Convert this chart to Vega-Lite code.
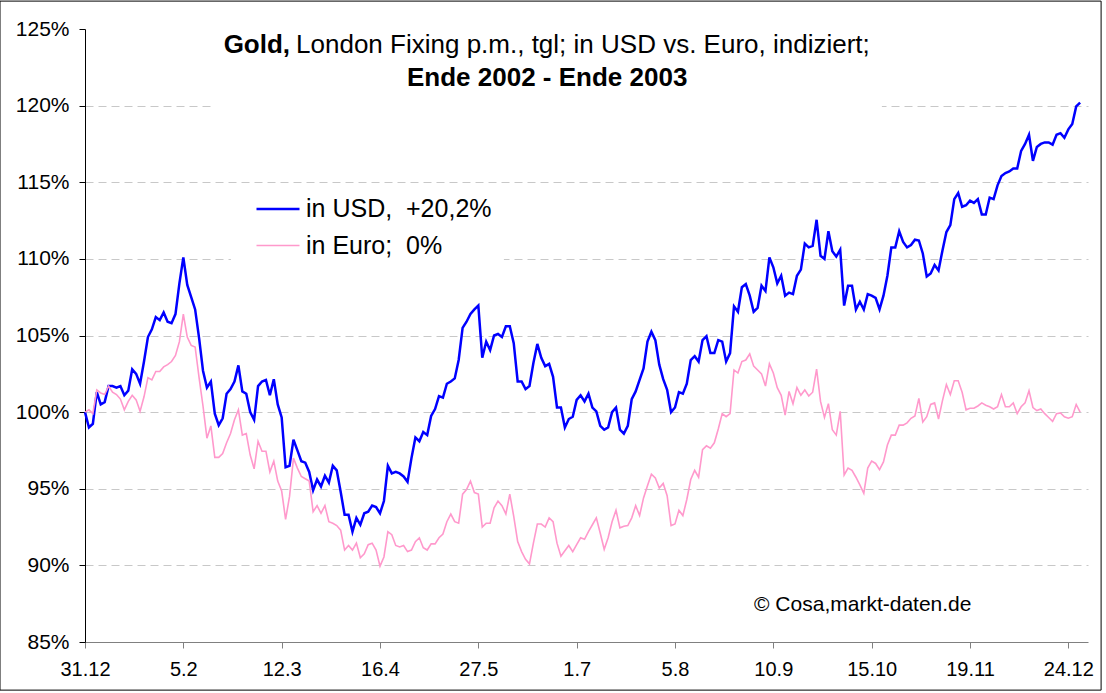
{
"$schema":"https://vega.github.io/schema/vega-lite/v6.json",
"width":1003,"height":613,
"autosize":{"type":"none"},
"padding":{"left":85,"top":29,"right":18,"bottom":51},
"background":"white",
"config":{"view":{"stroke":null},"font":"Liberation Sans"},
"data":{"values":[
{"i":0,"usd":100.0,"eur":100.0},{"i":1,"usd":99.0,"eur":100.15},{"i":2,"usd":99.24,"eur":99.9},{"i":3,"usd":101.3,"eur":101.45},{"i":4,"usd":100.5,"eur":101.25},{"i":5,"usd":100.65,"eur":101.15},{"i":6,"usd":101.7,"eur":101.7},{"i":7,"usd":101.7,"eur":101.3},{"i":8,"usd":101.6,"eur":101.15},{"i":9,"usd":101.7,"eur":100.85},
{"i":10,"usd":101.1,"eur":100.15},{"i":11,"usd":101.4,"eur":100.7},{"i":12,"usd":102.8,"eur":101.1},{"i":13,"usd":102.5,"eur":100.8},{"i":14,"usd":101.85,"eur":100.05},{"i":15,"usd":103.3,"eur":101.0},{"i":16,"usd":104.9,"eur":102.25},{"i":17,"usd":105.4,"eur":102.1},{"i":18,"usd":106.2,"eur":102.65},{"i":19,"usd":106.0,"eur":102.65},
{"i":20,"usd":106.5,"eur":102.95},{"i":21,"usd":105.9,"eur":103.1},{"i":22,"usd":105.8,"eur":103.3},{"i":23,"usd":106.4,"eur":103.7},{"i":24,"usd":108.4,"eur":104.6},{"i":25,"usd":110.1,"eur":106.4},{"i":26,"usd":108.3,"eur":104.9},{"i":27,"usd":107.5,"eur":104.35},{"i":28,"usd":106.7,"eur":104.25},{"i":29,"usd":104.85,"eur":102.25},
{"i":30,"usd":102.7,"eur":100.4},{"i":31,"usd":101.6,"eur":98.3},{"i":32,"usd":102.0,"eur":99.1},{"i":33,"usd":99.9,"eur":97.05},{"i":34,"usd":99.15,"eur":97.05},{"i":35,"usd":99.6,"eur":97.3},{"i":36,"usd":101.2,"eur":98.0},{"i":37,"usd":101.5,"eur":98.6},{"i":38,"usd":102.0,"eur":99.5},{"i":39,"usd":103.05,"eur":100.15},
{"i":40,"usd":101.35,"eur":98.5},{"i":41,"usd":101.2,"eur":98.6},{"i":42,"usd":100.0,"eur":97.2},{"i":43,"usd":99.5,"eur":96.3},{"i":44,"usd":101.7,"eur":98.1},{"i":45,"usd":102.0,"eur":97.45},{"i":46,"usd":102.1,"eur":97.45},{"i":47,"usd":101.1,"eur":96.1},{"i":48,"usd":102.15,"eur":96.8},{"i":49,"usd":100.5,"eur":95.5},
{"i":50,"usd":99.65,"eur":94.85},{"i":51,"usd":96.4,"eur":93.0},{"i":52,"usd":96.5,"eur":94.5},{"i":53,"usd":98.2,"eur":97.0},{"i":54,"usd":97.5,"eur":96.35},{"i":55,"usd":96.8,"eur":95.8},{"i":56,"usd":96.7,"eur":95.65},{"i":57,"usd":96.1,"eur":95.5},{"i":58,"usd":94.9,"eur":93.5},{"i":59,"usd":95.6,"eur":93.9},
{"i":60,"usd":95.15,"eur":93.4},{"i":61,"usd":95.85,"eur":93.9},{"i":62,"usd":95.4,"eur":92.85},{"i":63,"usd":96.5,"eur":92.75},{"i":64,"usd":96.2,"eur":92.6},{"i":65,"usd":94.8,"eur":92.3},{"i":66,"usd":93.3,"eur":91.0},{"i":67,"usd":93.3,"eur":91.3},{"i":68,"usd":92.2,"eur":91.0},{"i":69,"usd":93.1,"eur":91.45},
{"i":70,"usd":92.65,"eur":90.5},{"i":71,"usd":93.4,"eur":90.75},{"i":72,"usd":93.5,"eur":91.35},{"i":73,"usd":93.9,"eur":91.45},{"i":74,"usd":93.8,"eur":91.0},{"i":75,"usd":93.4,"eur":89.95},{"i":76,"usd":94.2,"eur":90.55},{"i":77,"usd":96.5,"eur":92.2},{"i":78,"usd":96.0,"eur":92.0},{"i":79,"usd":96.1,"eur":91.3},
{"i":80,"usd":96.0,"eur":91.2},{"i":81,"usd":95.8,"eur":91.3},{"i":82,"usd":95.45,"eur":90.9},{"i":83,"usd":97.0,"eur":91.0},{"i":84,"usd":98.35,"eur":91.55},{"i":85,"usd":98.1,"eur":91.8},{"i":86,"usd":98.7,"eur":91.15},{"i":87,"usd":98.5,"eur":91.0},{"i":88,"usd":99.75,"eur":91.4},{"i":89,"usd":100.2,"eur":91.4},
{"i":90,"usd":101.05,"eur":91.8},{"i":91,"usd":100.95,"eur":92.05},{"i":92,"usd":101.85,"eur":92.85},{"i":93,"usd":102.0,"eur":93.35},{"i":94,"usd":102.2,"eur":92.85},{"i":95,"usd":103.4,"eur":92.75},{"i":96,"usd":105.5,"eur":94.65},{"i":97,"usd":105.9,"eur":94.95},{"i":98,"usd":106.4,"eur":95.5},{"i":99,"usd":106.7,"eur":94.75},
{"i":100,"usd":106.95,"eur":94.65},{"i":101,"usd":103.55,"eur":92.5},{"i":102,"usd":104.6,"eur":92.75},{"i":103,"usd":104.05,"eur":92.75},{"i":104,"usd":105.0,"eur":93.75},{"i":105,"usd":105.1,"eur":94.2},{"i":106,"usd":104.9,"eur":93.9},{"i":107,"usd":105.6,"eur":93.35},{"i":108,"usd":105.6,"eur":94.65},{"i":109,"usd":104.5,"eur":93.2},
{"i":110,"usd":102.0,"eur":91.55},{"i":111,"usd":102.0,"eur":90.9},{"i":112,"usd":101.5,"eur":90.4},{"i":113,"usd":101.7,"eur":90.1},{"i":114,"usd":103.2,"eur":91.45},{"i":115,"usd":104.45,"eur":92.7},{"i":116,"usd":103.55,"eur":92.7},{"i":117,"usd":103.0,"eur":92.5},{"i":118,"usd":103.15,"eur":93.1},{"i":119,"usd":102.3,"eur":92.85},
{"i":120,"usd":100.3,"eur":91.45},{"i":121,"usd":100.3,"eur":90.6},{"i":122,"usd":99.0,"eur":90.95},{"i":123,"usd":99.55,"eur":91.3},{"i":124,"usd":99.7,"eur":90.9},{"i":125,"usd":100.8,"eur":91.35},{"i":126,"usd":101.1,"eur":91.8},{"i":127,"usd":100.7,"eur":91.7},{"i":128,"usd":101.2,"eur":92.2},{"i":129,"usd":100.3,"eur":92.65},
{"i":130,"usd":100.05,"eur":93.1},{"i":131,"usd":99.1,"eur":92.1},{"i":132,"usd":98.85,"eur":91.05},{"i":133,"usd":99.0,"eur":91.8},{"i":134,"usd":100.0,"eur":92.85},{"i":135,"usd":100.3,"eur":93.6},{"i":136,"usd":98.85,"eur":92.45},{"i":137,"usd":98.6,"eur":92.55},{"i":138,"usd":99.1,"eur":92.6},{"i":139,"usd":100.85,"eur":93.1},
{"i":140,"usd":101.35,"eur":93.9},{"i":141,"usd":102.1,"eur":93.25},{"i":142,"usd":102.85,"eur":94.4},{"i":143,"usd":104.6,"eur":95.2},{"i":144,"usd":105.25,"eur":95.95},{"i":145,"usd":104.7,"eur":95.7},{"i":146,"usd":103.1,"eur":95.05},{"i":147,"usd":102.15,"eur":95.35},{"i":148,"usd":101.45,"eur":94.55},{"i":149,"usd":100.0,"eur":92.6},
{"i":150,"usd":100.3,"eur":92.7},{"i":151,"usd":101.3,"eur":93.6},{"i":152,"usd":101.2,"eur":93.25},{"i":153,"usd":101.85,"eur":94.3},{"i":154,"usd":103.4,"eur":95.6},{"i":155,"usd":103.65,"eur":96.2},{"i":156,"usd":103.3,"eur":95.75},{"i":157,"usd":104.7,"eur":97.55},{"i":158,"usd":104.95,"eur":97.8},{"i":159,"usd":103.85,"eur":97.65},
{"i":160,"usd":103.85,"eur":98.0},{"i":161,"usd":104.7,"eur":98.9},{"i":162,"usd":104.6,"eur":99.9},{"i":163,"usd":103.3,"eur":99.7},{"i":164,"usd":103.85,"eur":99.9},{"i":165,"usd":106.9,"eur":102.75},{"i":166,"usd":106.55,"eur":102.55},{"i":167,"usd":108.15,"eur":103.3},{"i":168,"usd":108.35,"eur":103.4},{"i":169,"usd":107.6,"eur":103.8},
{"i":170,"usd":106.55,"eur":103.0},{"i":171,"usd":106.8,"eur":102.75},{"i":172,"usd":108.25,"eur":102.5},{"i":173,"usd":107.9,"eur":101.7},{"i":174,"usd":110.1,"eur":103.15},{"i":175,"usd":109.45,"eur":102.55},{"i":176,"usd":108.4,"eur":101.6},{"i":177,"usd":108.9,"eur":101.1},{"i":178,"usd":107.6,"eur":99.8},{"i":179,"usd":107.8,"eur":101.35},
{"i":180,"usd":107.7,"eur":100.55},{"i":181,"usd":108.9,"eur":101.6},{"i":182,"usd":109.3,"eur":101.1},{"i":183,"usd":111.0,"eur":101.45},{"i":184,"usd":110.75,"eur":101.05},{"i":185,"usd":110.85,"eur":101.3},{"i":186,"usd":112.55,"eur":102.8},{"i":187,"usd":110.2,"eur":100.7},{"i":188,"usd":110.0,"eur":99.65},{"i":189,"usd":111.8,"eur":100.55},
{"i":190,"usd":110.5,"eur":98.85},{"i":191,"usd":110.15,"eur":98.5},{"i":192,"usd":110.6,"eur":100.05},{"i":193,"usd":106.95,"eur":95.9},{"i":194,"usd":108.25,"eur":96.35},{"i":195,"usd":108.25,"eur":96.2},{"i":196,"usd":106.7,"eur":95.75},{"i":197,"usd":107.2,"eur":95.25},{"i":198,"usd":106.7,"eur":94.7},{"i":199,"usd":107.7,"eur":96.35},
{"i":200,"usd":107.6,"eur":96.8},{"i":201,"usd":107.45,"eur":96.65},{"i":202,"usd":106.7,"eur":96.25},{"i":203,"usd":107.6,"eur":96.75},{"i":204,"usd":108.9,"eur":97.85},{"i":205,"usd":110.75,"eur":98.5},{"i":206,"usd":110.75,"eur":98.5},{"i":207,"usd":111.8,"eur":99.15},{"i":208,"usd":111.1,"eur":99.15},{"i":209,"usd":110.75,"eur":99.3},
{"i":210,"usd":110.9,"eur":99.6},{"i":211,"usd":111.25,"eur":99.75},{"i":212,"usd":111.2,"eur":100.9},{"i":213,"usd":110.35,"eur":99.35},{"i":214,"usd":108.85,"eur":99.7},{"i":215,"usd":109.05,"eur":100.5},{"i":216,"usd":109.6,"eur":100.6},{"i":217,"usd":109.25,"eur":99.55},{"i":218,"usd":110.55,"eur":100.75},{"i":219,"usd":111.75,"eur":101.8},
{"i":220,"usd":112.2,"eur":101.15},{"i":221,"usd":113.9,"eur":102.05},{"i":222,"usd":114.3,"eur":102.05},{"i":223,"usd":113.4,"eur":101.3},{"i":224,"usd":113.5,"eur":100.15},{"i":225,"usd":113.8,"eur":100.25},{"i":226,"usd":113.65,"eur":100.25},{"i":227,"usd":113.9,"eur":100.4},{"i":228,"usd":112.9,"eur":100.6},{"i":229,"usd":112.9,"eur":100.45},
{"i":230,"usd":114.0,"eur":100.35},{"i":231,"usd":113.9,"eur":100.2},{"i":232,"usd":114.8,"eur":100.35},{"i":233,"usd":115.4,"eur":101.15},{"i":234,"usd":115.6,"eur":100.35},{"i":235,"usd":115.7,"eur":100.35},{"i":236,"usd":115.9,"eur":100.6},{"i":237,"usd":115.9,"eur":99.9},{"i":238,"usd":117.05,"eur":100.35},{"i":239,"usd":117.5,"eur":100.6},
{"i":240,"usd":118.1,"eur":101.4},{"i":241,"usd":116.4,"eur":100.3},{"i":242,"usd":117.3,"eur":100.1},{"i":243,"usd":117.5,"eur":100.2},{"i":244,"usd":117.6,"eur":99.9},{"i":245,"usd":117.6,"eur":99.65},{"i":246,"usd":117.45,"eur":99.4},{"i":247,"usd":118.1,"eur":99.9},{"i":248,"usd":118.2,"eur":99.95},{"i":249,"usd":117.9,"eur":99.7},
{"i":250,"usd":118.45,"eur":99.6},{"i":251,"usd":118.8,"eur":99.7},{"i":252,"usd":119.95,"eur":100.5},{"i":253,"usd":120.2,"eur":100.0}
]},
"layer":[
{"data":{"values":[{}]},"mark":{"type":"rect","fill":"white","stroke":null},"encoding":{"x":{"datum":32.3},"x2":{"datum":202.6},"y":{"datum":125},"y2":{"datum":119.7}}},
{"data":{"values":[{}]},"mark":{"type":"rect","fill":"white","stroke":null},"encoding":{"x":{"datum":37.1},"x2":{"datum":106.5},"y":{"datum":114.35},"y2":{"datum":109.78}}},
{"data":{"values":[{}]},"mark":{"type":"rect","fill":null,"stroke":"black","strokeWidth":1,"clip":false},"encoding":{"x":{"datum":-21.61},"x2":{"datum":258.33},"y":{"datum":126.82},"y2":{"datum":81.86}}},
{
"transform":[{"fold":["usd","eur"],"as":["key","val"]}],
"mark":{"type":"line","strokeJoin":"miter","interpolate":"linear"},
"encoding":{
"x":{"field":"i","type":"quantitative","scale":{"domain":[0,255],"nice":false,"zero":false},
"axis":{"title":null,"values":[0,25,50,75,100,125,150,175,200,225,250],"labelExpr":"['31.12','5.2','12.3','16.4','27.5','1.7','5.8','10.9','15.10','19.11','24.12'][round(datum.value/25)]","grid":false,"domainColor":"#808080","tickColor":"#808080","tickSize":6,"labelFontSize":20,"labelPadding":11,"labelColor":"black","labelFlush":false,"labelOverlap":false}},
"y":{"field":"val","type":"quantitative","scale":{"domain":[85,125],"nice":false,"zero":false},
"axis":{"title":null,"values":[85,90,95,100,105,110,115,120,125],"labelExpr":"datum.value + '%'","grid":true,"gridDash":[8,5],"gridColor":"#C8C8C8","gridOpacity":{"condition":{"test":"datum.value >= 125 || datum.value <= 85","value":0},"value":1},"domainColor":"black","tickColor":"black","tickSize":6,"labelPadding":10,"labelFontSize":21,"labelColor":"black","labelFlush":false,"labelOverlap":false}},
"color":{"field":"key","type":"nominal","scale":{"domain":["usd","eur"],"range":["#0000FF","#FF99CC"]},
"legend":{"orient":"none","legendX":170,"legendY":157,"title":null,"labelFontSize":25,"labelFont":"Liberation Sans","labelColor":"black","labelLimit":500,"symbolType":"stroke","symbolSize":1849,"symbolStrokeWidth":2,"rowPadding":1,"labelOffset":5,"labelExpr":"datum.value == 'usd' ? 'in USD,\u00a0 +20,2%' : 'in Euro;\u00a0 0%'"}},
"strokeWidth":{"field":"key","type":"nominal","scale":{"domain":["usd","eur"],"range":[2.5,1.6]},"legend":null}
}
},
{"data":{"values":[{}]},"mark":{"type":"text","text":"Gold,","fontSize":26,"fontWeight":"bold","align":"right","baseline":"middle","dx":-3,"color":"black"},"encoding":{"x":{"datum":52.9},"y":{"datum":123.94}}},
{"data":{"values":[{}]},"mark":{"type":"text","text":"London Fixing p.m., tgl; in USD vs. Euro, indiziert;","fontSize":26,"align":"left","baseline":"middle","dx":3,"color":"black"},"encoding":{"x":{"datum":52.9},"y":{"datum":123.94}}},
{"data":{"values":[{}]},"mark":{"type":"text","text":"Ende 2002 - Ende 2003","fontSize":26,"fontWeight":"bold","align":"center","baseline":"middle","color":"black"},"encoding":{"x":{"datum":117.5},"y":{"datum":121.79}}},
{"data":{"values":[{}]},"mark":{"type":"text","text":"© Cosa,markt-daten.de","fontSize":21,"align":"left","baseline":"middle","color":"black"},"encoding":{"x":{"datum":170.1},"y":{"datum":87.41}}}
]
}
